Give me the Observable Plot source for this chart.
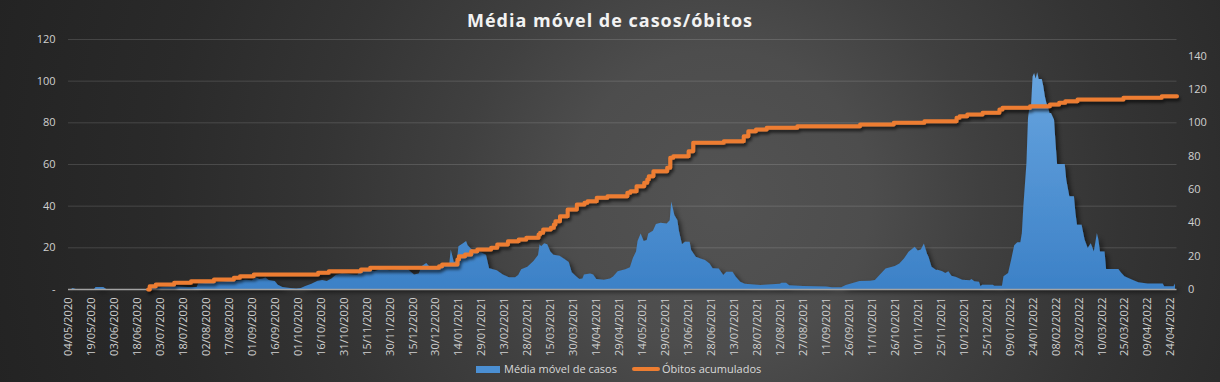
<!DOCTYPE html>
<html>
<head>
<meta charset="utf-8">
<script src="https://cdn.jsdelivr.net/npm/d3@7"></script>
<script src="https://cdn.jsdelivr.net/npm/@observablehq/plot@0.6"></script>
<style>
html, body { margin: 0; padding: 0; background: #262626; }
#chart {
  position: relative; width: 1220px; height: 382px; overflow: hidden;
  background: radial-gradient(circle 780px at 720px 200px, #535353 0px, #4d4d4d 150px, #404040 260px, #343434 400px, #2a2a2a 560px, #222222 780px);
  font-family: "Open Sans", sans-serif;
}
#title {
  position: absolute; top: 7px; left: 0; width: 1220px; text-align: center;
  color: #f2f2f2; font-weight: 700; font-size: 18px; letter-spacing: 1px; line-height: 26px;
}
#plot { position: absolute; left: 0; top: 0; }
.lg { position: absolute; }
.lgt { position: absolute; top: 361px; font-size: 11px; line-height: 16px; color: #d9d9d9; white-space: nowrap; }
</style>
</head>
<body>
<div id="chart">
  <div id="plot"></div>
  <div id="title">Média móvel de casos/óbitos</div>
  <div class="lg" style="left:476px;top:366px;width:24px;height:7px;background:#4b8fd3;"></div>
  <div class="lgt" style="left:504px;">Média móvel de casos</div>
  <div class="lg" style="left:632px;top:367px;width:28px;height:4px;background:#ed7d31;border-radius:2px;"></div>
  <div class="lgt" style="left:662px;">Óbitos acumulados</div>
</div>
<script>
// ---- Data ----
const caseDates = [
  "2020-05-04","2020-05-06","2020-05-07","2020-05-09","2020-05-21","2020-05-22","2020-05-27","2020-05-29",
  "2020-06-24","2020-06-26","2020-07-01","2020-07-05","2020-07-13","2020-07-21","2020-07-27","2020-07-28",
  "2020-08-04","2020-08-09","2020-08-16","2020-08-22","2020-08-28","2020-09-01","2020-09-04","2020-09-06",
  "2020-09-08","2020-09-10","2020-09-12","2020-09-16","2020-09-18","2020-09-21","2020-09-26","2020-09-30",
  "2020-10-03","2020-10-06","2020-10-10","2020-10-14","2020-10-17","2020-10-20","2020-10-23","2020-10-26",
  "2020-10-30","2020-11-03","2020-11-06","2020-11-09","2020-11-11","2020-11-17","2020-11-20","2020-11-24",
  "2020-11-30","2020-12-05","2020-12-12","2020-12-16","2020-12-19","2020-12-21","2020-12-24","2020-12-27",
  "2021-01-01","2021-01-04","2021-01-08","2021-01-09","2021-01-11","2021-01-13","2021-01-14","2021-01-17",
  "2021-01-19","2021-01-20","2021-01-22","2021-01-25","2021-01-29","2021-02-01","2021-02-03","2021-02-08",
  "2021-02-12","2021-02-16","2021-02-20","2021-02-22","2021-02-24","2021-02-28","2021-03-04","2021-03-07",
  "2021-03-08","2021-03-09","2021-03-11","2021-03-13","2021-03-15","2021-03-17","2021-03-21","2021-03-24",
  "2021-03-27","2021-03-29","2021-04-01","2021-04-03","2021-04-05","2021-04-06","2021-04-10","2021-04-12",
  "2021-04-14","2021-04-19","2021-04-23","2021-04-25","2021-04-28","2021-05-03","2021-05-06","2021-05-08",
  "2021-05-10","2021-05-11","2021-05-13","2021-05-15","2021-05-17","2021-05-18","2021-05-21","2021-05-23",
  "2021-05-26","2021-05-30","2021-06-01","2021-06-02","2021-06-04","2021-06-06","2021-06-07","2021-06-09",
  "2021-06-11","2021-06-14","2021-06-15","2021-06-18","2021-06-21","2021-06-24","2021-06-27","2021-06-29",
  "2021-07-03","2021-07-06","2021-07-08","2021-07-12","2021-07-14","2021-07-17","2021-07-20","2021-07-30",
  "2021-08-12","2021-08-13","2021-08-16","2021-08-18","2021-08-27","2021-09-11","2021-09-15","2021-09-21",
  "2021-09-24","2021-10-03","2021-10-10","2021-10-13","2021-10-16","2021-10-20","2021-10-26","2021-10-29",
  "2021-11-01","2021-11-04","2021-11-08","2021-11-10","2021-11-12","2021-11-14","2021-11-16","2021-11-17",
  "2021-11-19","2021-11-22","2021-11-23","2021-11-26","2021-11-28","2021-11-30","2021-12-02","2021-12-05",
  "2021-12-09","2021-12-14","2021-12-15","2021-12-17","2021-12-20","2021-12-21","2021-12-22","2021-12-29",
  "2021-12-30","2022-01-04","2022-01-05","2022-01-08","2022-01-10","2022-01-12","2022-01-14","2022-01-16",
  "2022-01-17","2022-01-18","2022-01-20","2022-01-21","2022-01-22","2022-01-23","2022-01-24","2022-01-25",
  "2022-01-26","2022-01-27","2022-01-28","2022-01-30","2022-01-31","2022-02-01","2022-02-02","2022-02-03",
  "2022-02-04","2022-02-05","2022-02-07","2022-02-08","2022-02-09","2022-02-14","2022-02-15","2022-02-17",
  "2022-02-20","2022-02-21","2022-02-22","2022-02-25","2022-02-27","2022-03-01","2022-03-03","2022-03-04",
  "2022-03-05","2022-03-07","2022-03-08","2022-03-09","2022-03-12","2022-03-13","2022-03-21","2022-03-23",
  "2022-03-25","2022-03-29","2022-04-03","2022-04-09","2022-04-19","2022-04-20","2022-04-26","2022-04-27"
];
const caseValues = [
  0,0,0.5,0,0,1,1,0,
  0,0.5,0.6,1,1.3,1,1,2.7,
  3,3.3,3.8,4,4.5,4.2,5.5,4.8,
  5,5.5,4.3,3.8,2,1,0.5,0.2,
  0.5,1.5,2.5,4,4.3,3.8,5,6.8,
  7.5,7.2,7,6.8,9,9.3,8.5,9.5,
  9,9.3,9.5,7,7.5,11,12.5,10,
  10,11.7,12,19,13,13.5,20.5,22,
  23,21,19.5,18,17.5,16.5,10,9,
  7,5.6,5.6,6.7,9.5,10.7,13.5,16.3,
  21.5,20.5,22,21.5,18,16.5,16,14.5,
  13,8,6,4.8,5,7,7.5,7,
  4.8,4.5,5,6,8.5,9.5,10.5,15,
  18,23,26.7,23,23.5,26.7,28,31.2,
  31.8,31.5,33,42,35.5,33,28,21.5,
  22.7,22.7,18.7,15.5,14.7,13.9,12.3,10,
  9.9,6.7,8.3,8.3,6,3.5,2.5,1.9,
  2.5,3,3,1.8,1.5,1.2,0.8,0.8,
  1.9,3.8,4,4.3,6.7,9.9,11,12.3,
  14.7,17.9,20.3,18.5,19,21.9,17,15.5,
  10.7,9.1,9.3,8.5,7.7,8.5,6.4,5.8,
  4.5,4.2,4.8,3.7,3.5,1.3,2.1,2.1,
  1.6,1.6,6.1,7.7,14,21,22.4,22.4,
  26.9,40,60.5,82,87.7,88,102,103.7,
  101,104,100.8,100.8,97.3,92.5,89.3,87.7,
  84.5,84.5,81.3,70,60,60,52.5,44.5,
  44.5,36.5,30.9,30.9,23.7,19.7,22,20,
  18,26.9,23.7,18,18,9.6,9.6,7.7,
  6.1,4.8,3.2,2.6,2.6,1.3,1.3,2.6
];
const deathDates = [
  "2020-06-25","2020-06-26","2020-06-30","2020-07-12","2020-07-23","2020-08-07","2020-08-20","2020-08-24",
  "2020-09-02","2020-10-14","2020-10-21","2020-11-11","2020-11-17","2021-01-01","2021-01-03","2021-01-13",
  "2021-01-14","2021-01-18","2021-01-22","2021-01-26","2021-02-04","2021-02-08","2021-02-15","2021-02-22",
  "2021-02-27","2021-03-07","2021-03-08","2021-03-10","2021-03-15","2021-03-17","2021-03-18","2021-03-21",
  "2021-03-26","2021-04-01","2021-04-06","2021-04-08","2021-04-14","2021-04-21","2021-05-04","2021-05-06",
  "2021-05-10","2021-05-15","2021-05-17","2021-05-18","2021-05-21","2021-05-30","2021-06-01","2021-06-03",
  "2021-06-13","2021-06-16","2021-07-06","2021-07-19","2021-07-22","2021-07-27","2021-08-03","2021-08-23",
  "2021-10-03","2021-10-25","2021-11-14","2021-12-05","2021-12-07","2021-12-12","2021-12-22","2022-01-02",
  "2022-01-04","2022-01-22","2022-02-04","2022-02-10","2022-02-14","2022-02-22","2022-03-24","2022-04-18",
  "2022-04-28"
];
const deathValues = [
  0,2,3,4,5,6,7,8,
  9,10,11,12,13,14,15,18,
  20,21,23,24,25,27,29,30,
  31,33,34,36,37,39,41,44,
  48,51,52,53,55,56,58,59,
  62,64,66,68,71,73,79,80,
  83,88,89,92,95,96,97,98,
  99,100,101,103,104,105,106,108,
  109,110,111,112,113,114,115,116,
  116
];
const tickLabels = [
  "04/05/2020","19/05/2020","03/06/2020","18/06/2020","03/07/2020","18/07/2020","02/08/2020","17/08/2020",
  "01/09/2020","16/09/2020","01/10/2020","16/10/2020","31/10/2020","15/11/2020","30/11/2020","15/12/2020",
  "30/12/2020","14/01/2021","29/01/2021","13/02/2021","28/02/2021","15/03/2021","30/03/2021","14/04/2021",
  "29/04/2021","14/05/2021","29/05/2021","13/06/2021","28/06/2021","13/07/2021","28/07/2021","12/08/2021",
  "27/08/2021","11/09/2021","26/09/2021","11/10/2021","26/10/2021","10/11/2021","25/11/2021","10/12/2021",
  "25/12/2021","09/01/2022","24/01/2022","08/02/2022","23/02/2022","10/03/2022","25/03/2022","09/04/2022",
  "24/04/2022"
];
const leftTicks = [0, 20, 40, 60, 80, 100, 120];
const rightTicks = [0, 20, 40, 60, 80, 100, 120, 140];
const gridTicks = [20, 40, 60, 80, 100, 120];

// ---- Build ----
const parseISO = d3.utcParse("%Y-%m-%d");
const parseBR = d3.utcParse("%d/%m/%Y");
const fmtBR = d3.utcFormat("%d/%m/%Y");
const cases = caseDates.map((d, i) => ({date: parseISO(d), value: caseValues[i]}));
const deaths = deathDates.map((d, i) => ({date: parseISO(d), value: deathValues[i]}));
const tickDates = tickLabels.map(parseBR);
const K = 120 / 150; // right axis 0..150 mapped onto left 0..120

const defs = () => {
  const g = document.createElementNS("http://www.w3.org/2000/svg", "defs");
  g.innerHTML = `
    <linearGradient id="blueGrad" gradientUnits="userSpaceOnUse" x1="0" y1="39" x2="0" y2="289">
      <stop offset="0" stop-color="#6eaae3"/>
      <stop offset="1" stop-color="#3c81c7"/>
    </linearGradient>
    <filter id="shA" filterUnits="userSpaceOnUse" x="0" y="0" width="1220" height="382">
      <feDropShadow dx="3" dy="3" stdDeviation="2.5" flood-color="#000" flood-opacity="0.55"/>
    </filter>
    <filter id="shL" filterUnits="userSpaceOnUse" x="0" y="0" width="1220" height="382">
      <feDropShadow dx="1.5" dy="3" stdDeviation="1.5" flood-color="#000" flood-opacity="0.6"/>
    </filter>`;
  return g;
};

const plot = Plot.plot({
  width: 1220,
  height: 382,
  marginTop: 39,
  marginBottom: 93,
  marginLeft: 68,
  marginRight: 43.5,
  style: {background: "transparent", color: "#d0d0d0", fontFamily: "Open Sans", fontSize: "11px", overflow: "visible"},
  x: {type: "utc", domain: [parseISO("2020-05-04"), parseISO("2022-04-28")]},
  y: {domain: [0, 120]},
  marks: [
    defs,
    Plot.ruleY(gridTicks, {stroke: "#ffffff", strokeOpacity: 0.14}),
    Plot.areaY(cases, {x: "date", y: "value", fill: "url(#blueGrad)"}),
    Plot.ruleY([0], {stroke: "#a3a3a3", strokeWidth: 1.3}),
    Plot.lineY(deaths, {x: "date", y: d => d.value * K, stroke: "#ed7d31", strokeWidth: 4, curve: "step-after"}),
    Plot.axisY({anchor: "left", ticks: leftTicks, tickFormat: v => v === 0 ? "-" : String(v), tickSize: 0, tickPadding: 13, label: null}),
    Plot.axisY({anchor: "right", ticks: rightTicks.map(v => v * K), tickFormat: v => String(Math.round(v / K)), tickSize: 0, tickPadding: 11, label: null}),
    Plot.axisX({ticks: tickDates, tickFormat: fmtBR, tickRotate: -90, tickSize: 0, tickPadding: 8, label: null})
  ]
});

const area = plot.querySelector('g[aria-label="area"]');
if (area) area.setAttribute("filter", "url(#shA)");
const line = plot.querySelector('g[aria-label="line"]');
if (line) line.setAttribute("filter", "url(#shL)");
document.getElementById("plot").appendChild(plot);
</script>
</body>
</html>
